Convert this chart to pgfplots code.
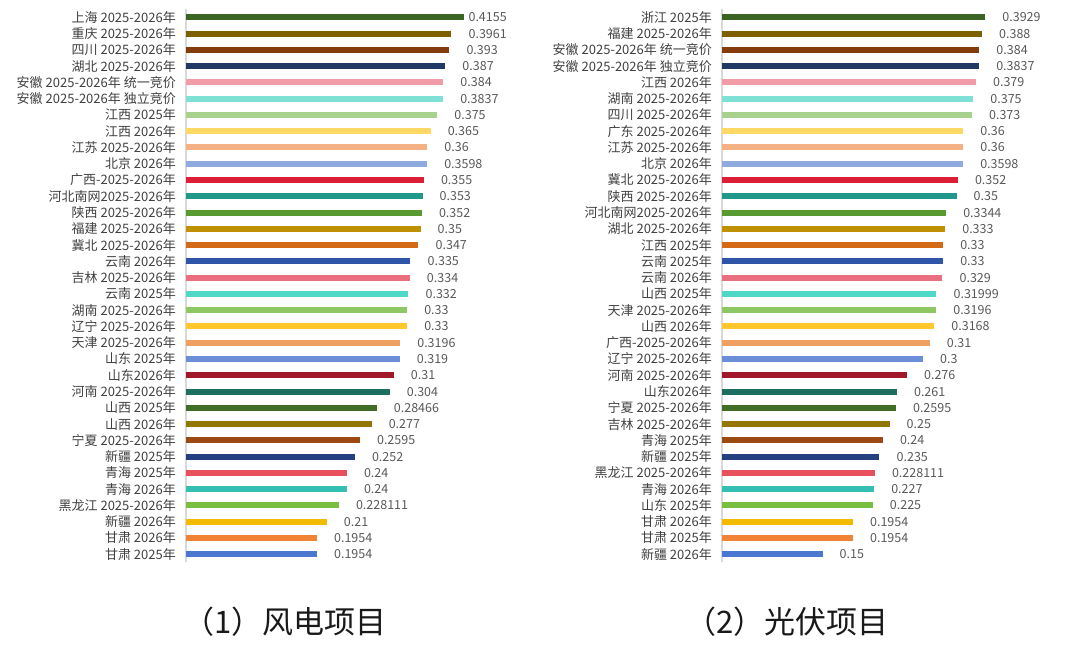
\documentclass[border=0pt]{standalone}
\usepackage{fontspec}
\setmainfont{Noto Sans CJK SC}
\usepackage{pgfplots}
\usepackage{pgfplotstable}
\pgfplotsset{compat=1.18}

% bar colours, same order in both charts
\definecolor{bc0}{HTML}{3C6423}
\definecolor{bc1}{HTML}{7F6000}
\definecolor{bc2}{HTML}{843C0C}
\definecolor{bc3}{HTML}{203864}
\definecolor{bc4}{HTML}{F19CA6}
\definecolor{bc5}{HTML}{7FE0D6}
\definecolor{bc6}{HTML}{A9D18E}
\definecolor{bc7}{HTML}{FFD966}
\definecolor{bc8}{HTML}{F4B183}
\definecolor{bc9}{HTML}{8FAADC}
\definecolor{bc10}{HTML}{DC1F37}
\definecolor{bc11}{HTML}{22988A}
\definecolor{bc12}{HTML}{5A9A32}
\definecolor{bc13}{HTML}{BF9000}
\definecolor{bc14}{HTML}{D46A16}
\definecolor{bc15}{HTML}{2F55A8}
\definecolor{bc16}{HTML}{EA6F7E}
\definecolor{bc17}{HTML}{4FD7C8}
\definecolor{bc18}{HTML}{8DC865}
\definecolor{bc19}{HTML}{FFC72C}
\definecolor{bc20}{HTML}{F0A060}
\definecolor{bc21}{HTML}{6A8FD8}
\definecolor{bc22}{HTML}{A0182A}
\definecolor{bc23}{HTML}{1F6E62}
\definecolor{bc24}{HTML}{426D27}
\definecolor{bc25}{HTML}{927600}
\definecolor{bc26}{HTML}{9C4A12}
\definecolor{bc27}{HTML}{24407E}
\definecolor{bc28}{HTML}{E8505E}
\definecolor{bc29}{HTML}{33C0B2}
\definecolor{bc30}{HTML}{78BF40}
\definecolor{bc31}{HTML}{F2BB00}
\definecolor{bc32}{HTML}{F08434}
\definecolor{bc33}{HTML}{4A77D0}
\definecolor{lbltxt}{HTML}{404040}
\definecolor{valtxt}{HTML}{595959}
\definecolor{axline}{HTML}{D9D9D9}

\pgfplotstableread[col sep=comma]{
name,val
上海 2025-2026年,0.4155
重庆 2025-2026年,0.3961
四川 2025-2026年,0.393
湖北 2025-2026年,0.387
安徽 2025-2026年 统一竞价,0.384
安徽 2025-2026年 独立竞价,0.3837
江西 2025年,0.375
江西 2026年,0.365
江苏 2025-2026年,0.36
北京 2026年,0.3598
广西-2025-2026年,0.355
河北南网2025-2026年,0.353
陕西 2025-2026年,0.352
福建 2025-2026年,0.35
冀北 2025-2026年,0.347
云南 2026年,0.335
吉林 2025-2026年,0.334
云南 2025年,0.332
湖南 2025-2026年,0.33
辽宁 2025-2026年,0.33
天津 2025-2026年,0.3196
山东 2025年,0.319
山东2026年,0.31
河南 2025-2026年,0.304
山西 2025年,0.28466
山西 2026年,0.277
宁夏 2025-2026年,0.2595
新疆 2025年,0.252
青海 2025年,0.24
青海 2026年,0.24
黑龙江 2025-2026年,0.228111
新疆 2026年,0.21
甘肃 2026年,0.1954
甘肃 2025年,0.1954
}\windtab

\pgfplotstableread[col sep=comma]{
name,val
浙江 2025年,0.3929
福建 2025-2026年,0.388
安徽 2025-2026年 统一竞价,0.384
安徽 2025-2026年 独立竞价,0.3837
江西 2026年,0.379
湖南 2025-2026年,0.375
四川 2025-2026年,0.373
广东 2025-2026年,0.36
江苏 2025-2026年,0.36
北京 2026年,0.3598
冀北 2025-2026年,0.352
陕西 2025-2026年,0.35
河北南网2025-2026年,0.3344
湖北 2025-2026年,0.333
江西 2025年,0.33
云南 2025年,0.33
云南 2026年,0.329
山西 2025年,0.31999
天津 2025-2026年,0.3196
山西 2026年,0.3168
广西-2025-2026年,0.31
辽宁 2025-2026年,0.3
河南 2025-2026年,0.276
山东2026年,0.261
宁夏 2025-2026年,0.2595
吉林 2025-2026年,0.25
青海 2025年,0.24
新疆 2025年,0.235
黑龙江 2025-2026年,0.228111
青海 2026年,0.227
山东 2025年,0.225
甘肃 2026年,0.1954
甘肃 2025年,0.1954
新疆 2026年,0.15
}\pvtab

\pgfplotsset{
  barchart/.style={
    scale only axis,
    width=335pt, height=553.2pt,
    anchor=north west,
    xbar, bar width=6pt,
    xmin=0, xmax=0.5,
    ymin=-0.5, ymax=33.5,
    y dir=reverse,
    axis x line=none,
    axis y line=left,
    y axis line style={-, draw=axline, line width=1.5pt},
    ytick={0,...,33},
    major tick length=0pt,
    yticklabel style={anchor=east, inner sep=0pt, xshift=-10pt,
      font=\fontsize{13}{14}\selectfont, text=lbltxt},
    clip=false,
    nodes near coords,
    point meta=explicit symbolic,
    every node near coord/.append style={anchor=west, inner sep=0pt,
      xshift=17pt, font=\fontsize{12.5}{14}\selectfont, text=valtxt},
  },
}

\begin{document}
\begin{tikzpicture}
\path[use as bounding box] (0,0) rectangle (1080pt,647pt);

% (1) wind
\begin{axis}[barchart, at={(186pt,637.8pt)},
  yticklabels from table={\windtab}{name}]
% top bar: its label sits closer to the bar
\addplot[fill=bc0, draw=none, bar shift=0pt,
  every node near coord/.append style={xshift=-13pt},
  restrict expr to domain={\coordindex}{0:0}]
  table[x=val, y expr=\coordindex, meta=val] {\windtab};
\pgfplotsinvokeforeach{1,...,33}{
\addplot[fill=bc#1, draw=none, bar shift=0pt,
  restrict expr to domain={\coordindex}{#1:#1}]
  table[x=val, y expr=\coordindex, meta=val] {\windtab};
}
\end{axis}

% (2) solar
\begin{axis}[barchart, at={(722pt,637.8pt)},
  yticklabels from table={\pvtab}{name}]
\pgfplotsinvokeforeach{0,...,33}{
\addplot[fill=bc#1, draw=none, bar shift=0pt,
  restrict expr to domain={\coordindex}{#1:#1}]
  table[x=val, y expr=\coordindex, meta=val] {\pvtab};
}
\end{axis}

\node[font=\fontsize{31}{34}\selectfont, text=black!90] at (285pt,25pt) {（1）风电项目};
\node[font=\fontsize{31}{34}\selectfont, text=black!90] at (787pt,25pt) {（2）光伏项目};
\end{tikzpicture}
\end{document}
